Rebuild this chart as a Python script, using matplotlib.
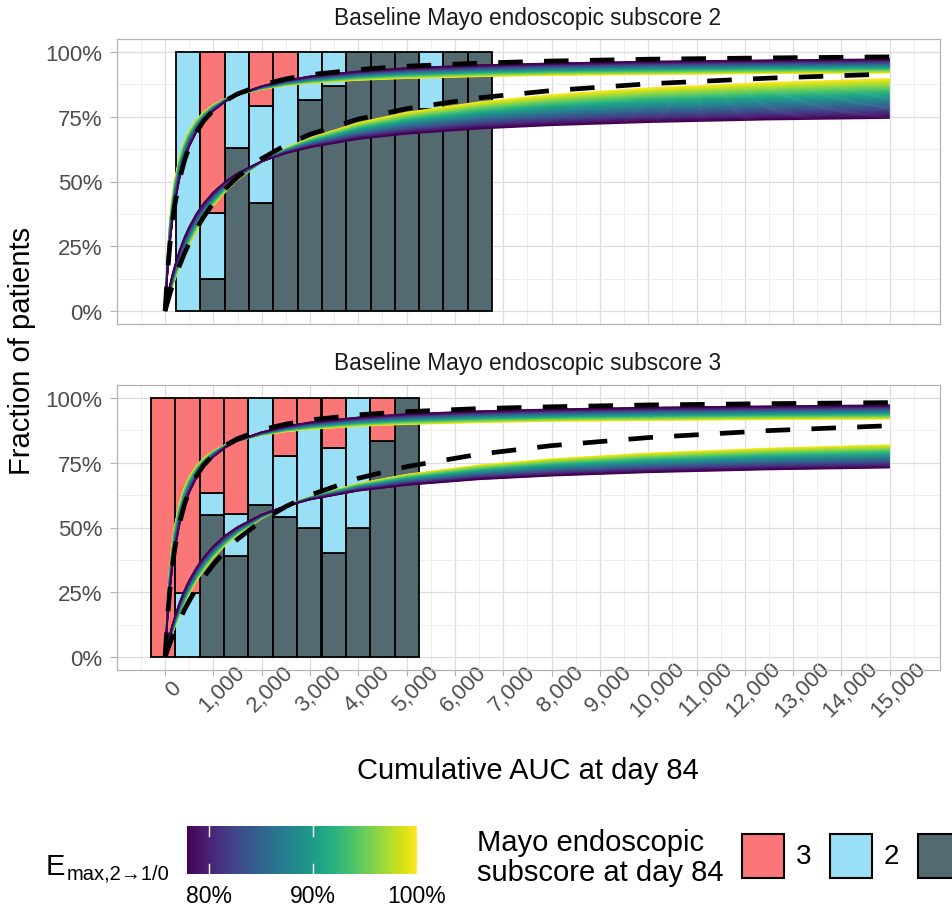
import numpy as np
import matplotlib
matplotlib.use("Agg")
import matplotlib.pyplot as plt
from matplotlib.transforms import ScaledTranslation
from matplotlib.patches import Rectangle

W, H = 952, 912
plt.rcParams['font.family'] = ['Liberation Sans', 'DejaVu Sans']

# ---- data (percent of patients) ----
curve_x = [0, 50, 100, 150, 200, 300, 400, 500, 650, 800, 1000, 1250, 1500,
           2000, 2500, 3000, 4000, 5000, 6500, 8000, 10000, 12500, 15000]

# baseline Mayo endoscopic subscore 2
top_dash_hi = [0, 14.7, 25.6, 34.1, 40.8, 50.8, 58.0, 63.3, 69.1, 73.4, 77.5, 81.2, 83.8,
               87.3, 89.6, 91.2, 93.2, 94.5, 95.7, 96.5, 97.2, 97.7, 98.1]
top_dash_lo = [0, 3.4, 6.7, 9.7, 12.5, 17.6, 22.2, 26.3, 31.7, 36.4, 41.7, 47.2, 51.7,
               58.8, 64.1, 68.2, 74.1, 78.1, 82.3, 85.1, 87.7, 89.9, 91.5]
top_hi_purple = [0, 15.0, 26.0, 34.6, 41.3, 51.2, 58.2, 63.5, 69.2, 73.4, 77.3, 80.9, 83.5,
                 86.8, 89.0, 90.6, 92.5, 93.8, 94.9, 95.6, 96.3, 96.8, 97.2]
top_hi_yellow = [0, 21.1, 34.4, 43.6, 50.3, 59.4, 65.3, 69.4, 73.7, 76.7, 79.5, 81.9, 83.5,
                 85.7, 87.1, 88.0, 89.2, 89.9, 90.6, 91.1, 91.4, 91.8, 92.0]
top_lo_purple = [0, 5.2, 9.8, 13.8, 17.3, 23.4, 28.4, 32.5, 37.6, 41.6, 45.9, 50.0, 53.2,
                 57.8, 60.9, 63.2, 66.4, 68.4, 70.4, 71.7, 72.9, 73.9, 74.5]
top_lo_yellow = [0, 3.4, 6.5, 9.5, 12.2, 17.3, 21.8, 25.8, 31.1, 35.6, 40.8, 46.2, 50.7,
                 57.6, 62.8, 66.8, 72.6, 76.6, 80.6, 83.4, 86.0, 88.1, 89.6]

# baseline Mayo endoscopic subscore 3
bot_dash_hi = [0, 15.2, 26.3, 34.9, 41.7, 51.7, 58.8, 64.1, 69.9, 74.1, 78.1, 81.7, 84.3,
               87.7, 89.9, 91.5, 93.5, 94.7, 95.9, 96.6, 97.3, 97.8, 98.2]
bot_dash_lo = [0, 2.7, 5.3, 7.7, 10.0, 14.3, 18.2, 21.7, 26.5, 30.8, 35.7, 41.0, 45.5,
               52.6, 58.1, 62.5, 69.0, 73.5, 78.3, 81.6, 84.7, 87.4, 89.3]
bot_hi_purple = [0, 15.0, 26.0, 34.6, 41.3, 51.2, 58.2, 63.5, 69.2, 73.4, 77.3, 80.9, 83.5,
                 86.8, 89.0, 90.6, 92.5, 93.8, 94.9, 95.6, 96.3, 96.8, 97.2]
bot_hi_yellow = [0, 21.1, 34.4, 43.6, 50.3, 59.4, 65.3, 69.4, 73.7, 76.7, 79.5, 81.9, 83.5,
                 85.7, 87.1, 88.0, 89.2, 89.9, 90.6, 91.1, 91.4, 91.8, 92.0]
bot_lo_purple = [0, 4.5, 8.6, 12.2, 15.4, 21.0, 25.7, 29.6, 34.5, 38.5, 42.8, 47.0, 50.2,
                 55.0, 58.3, 60.8, 64.2, 66.4, 68.6, 70.0, 71.3, 72.4, 73.1]
bot_lo_yellow = [0, 3.2, 6.3, 9.1, 11.7, 16.5, 20.7, 24.5, 29.4, 33.6, 38.4, 43.3, 47.3,
                 53.6, 58.2, 61.8, 66.9, 70.4, 74.0, 76.4, 78.6, 80.5, 81.8]

# observed fractions per AUC bin (stacked: 1/0 bottom, 2 middle, 3 top)
top_centers = [480, 983, 1486, 1989, 2492, 2995, 3498, 4001, 4504, 5007, 5510, 6013, 6516]
top_s1 = [0, 12.5, 63, 41.8, 62, 81.5, 87, 100, 100, 100, 78, 100, 100]
top_s2 = [100, 25.2, 37, 37.2, 27, 18.5, 13, 0, 0, 0, 22, 0, 0]
top_s3 = [0, 62.3, 0, 21, 11, 0, 0, 0, 0, 0, 0, 0, 0]

bot_centers = [-38, 466, 970, 1474, 1978, 2482, 2986, 3490, 3994, 4498, 5002]
bot_s1 = [0, 0, 54.7, 39, 58.8, 54, 50, 40.3, 50, 83.2, 100]
bot_s2 = [0, 24.9, 8.6, 16.4, 41.2, 23.5, 40, 40.2, 50, 0, 0]
bot_s3 = [100, 75.1, 36.7, 44.6, 0, 22.5, 10, 19.5, 0, 16.8, 0]

x_ticks = list(range(0, 16000, 1000))
emax_range = (0.779, 1.0)
emax_ticks = [0.8, 0.9, 1.0]
score_labels = ['3', '2', '1/0']
score_colors = ['#FB7676', '#99DFF5', '#546A71']

fig = plt.figure(figsize=(W / 100, H / 100), dpi=100)


def px_axes(x0, y0, x1, y1, **kw):
    return fig.add_axes([x0 / W, 1 - y1 / H, (x1 - x0) / W, (y1 - y0) / H], **kw)


cmap = plt.get_cmap('viridis')


def draw_panel(ax, centers, s1, s2, s3, bands, dashes, bottom_axis):
    c = np.array(centers, float)
    s1, s2, s3 = (np.array(s, float) for s in (s1, s2, s3))
    for h, b, col in [(s1, 0 * s1, score_colors[2]), (s2, s1, score_colors[1]),
                      (s3, s1 + s2, score_colors[0])]:
        m = h > 0
        ax.bar(c[m], h[m], bottom=b[m], width=503, color=col, edgecolor='black',
               linewidth=1.3, zorder=2)
    x = np.array(curve_x, float)
    for purple, yellow in bands:
        p = np.array(purple)
        y = np.array(yellow)
        for t in np.linspace(1, 0, 36):
            ax.plot(x, p + t * (y - p), color=cmap(t), lw=1.2, zorder=3,
                    solid_capstyle='butt')
    for d in dashes:
        ax.plot(x, d, color='black', lw=3.4, dashes=(5.2, 4.5), dash_capstyle='butt',
                zorder=4)

    ax.set_xlim(-995, 16040)
    ax.set_ylim(-5, 105)
    ax.set_xticks(x_ticks)
    ax.set_xticks(np.arange(-500, 16000, 1000), minor=True)
    ax.set_yticks([0, 25, 50, 75, 100])
    ax.set_yticks([12.5, 37.5, 62.5, 87.5], minor=True)
    ax.set_yticklabels(['0%', '25%', '50%', '75%', '100%'])
    ax.grid(which='major', color='#DDDDDD', lw=0.9)
    ax.grid(which='minor', color='#ECECEC', lw=0.6)
    ax.set_axisbelow(True)
    for s in ax.spines.values():
        s.set_color('#B3B3B3')
        s.set_linewidth(0.9)
    ax.tick_params(which='minor', length=0)
    ax.tick_params(axis='y', which='major', length=5, width=0.8, color='#B3B3B3',
                   labelsize=16, labelcolor='#4D4D4D', pad=5.5)
    if bottom_axis:
        ax.tick_params(axis='x', which='major', length=4.5, width=0.8, color='#B3B3B3',
                       labelsize=16, labelcolor='#4D4D4D', pad=5.4)
        ax.set_xticklabels([f'{t:,}' for t in x_ticks])
        off = ScaledTranslation(9 / 100, -5 / 100, fig.dpi_scale_trans)
        for lab in ax.get_xticklabels():
            lab.set_rotation(45)
            lab.set_rotation_mode('anchor')
            lab.set_ha('center')
            lab.set_va('center')
            lab.set_transform(lab.get_transform() + off)
    else:
        ax.tick_params(axis='x', which='major', length=0, labelbottom=False)


ax1 = px_axes(117, 40, 940, 325)
draw_panel(ax1, top_centers, top_s1, top_s2, top_s3,
           [(top_hi_purple, top_hi_yellow), (top_lo_purple, top_lo_yellow)],
           [top_dash_hi, top_dash_lo], False)
ax2 = px_axes(117, 386, 940, 671)
draw_panel(ax2, bot_centers, bot_s1, bot_s2, bot_s3,
           [(bot_hi_purple, bot_hi_yellow), (bot_lo_purple, bot_lo_yellow)],
           [bot_dash_hi, bot_dash_lo], True)

# overlay in pixel coordinates for titles and legends
ov = fig.add_axes([0, 0, 1, 1], zorder=10)
ov.set_xlim(0, W)
ov.set_ylim(H, 0)
ov.axis('off')
ov.patch.set_visible(False)

strip_kw = dict(ha='center', va='center', fontsize=16.3, color='#1A1A1A')
ov.text(528, 18, 'Baseline Mayo endoscopic subscore 2', **strip_kw)
ov.text(528, 364, 'Baseline Mayo endoscopic subscore 3', **strip_kw)
ov.text(22, 351, 'Fraction of patients', rotation=90, ha='center', va='center',
        fontsize=21)
ov.text(528, 771, 'Cumulative AUC at day 84', ha='center', va='center', fontsize=21)

# colour bar legend
ov.text(46, 875, 'E', ha='left', va='baseline', fontsize=21)
ov.text(67, 880, 'max,2\u21921/0', ha='left', va='baseline', fontsize=14.5)
cax = px_axes(187, 827, 417, 875)
grad = np.linspace(emax_range[0], emax_range[1], 256)[None, :]
cax.imshow(grad, aspect='auto', cmap='viridis', extent=[emax_range[0], emax_range[1], 0, 1],
           vmin=emax_range[0], vmax=emax_range[1])
for tk in emax_ticks:
    cax.plot([tk, tk], [0, 0.2], color='white', lw=1)
    cax.plot([tk, tk], [0.8, 1], color='white', lw=1)
cax.set_xlim(*emax_range)
cax.set_ylim(0, 1)
cax.set_yticks([])
cax.set_xticks(emax_ticks)
cax.set_xticklabels([f'{int(round(t * 100))}%' for t in emax_ticks])
cax.tick_params(axis='x', length=0, pad=7, labelsize=16.5)
for s in cax.spines.values():
    s.set_visible(False)

# discrete legend (the last key runs off the right edge, as in the source)
ov.text(477, 843, 'Mayo endoscopic', ha='left', va='center', fontsize=21)
ov.text(477, 873, 'subscore at day 84', ha='left', va='center', fontsize=21)
for i, (lab, col) in enumerate(zip(score_labels, score_colors)):
    x0 = 742 + i * 88
    ov.add_patch(Rectangle((x0, 835), 42, 44, facecolor=col, edgecolor='black', lw=1.5))
    if x0 + 54 < W - 20:
        ov.text(x0 + 54, 857, lab, ha='left', va='center', fontsize=20)

fig.savefig('out.png', dpi=100)
